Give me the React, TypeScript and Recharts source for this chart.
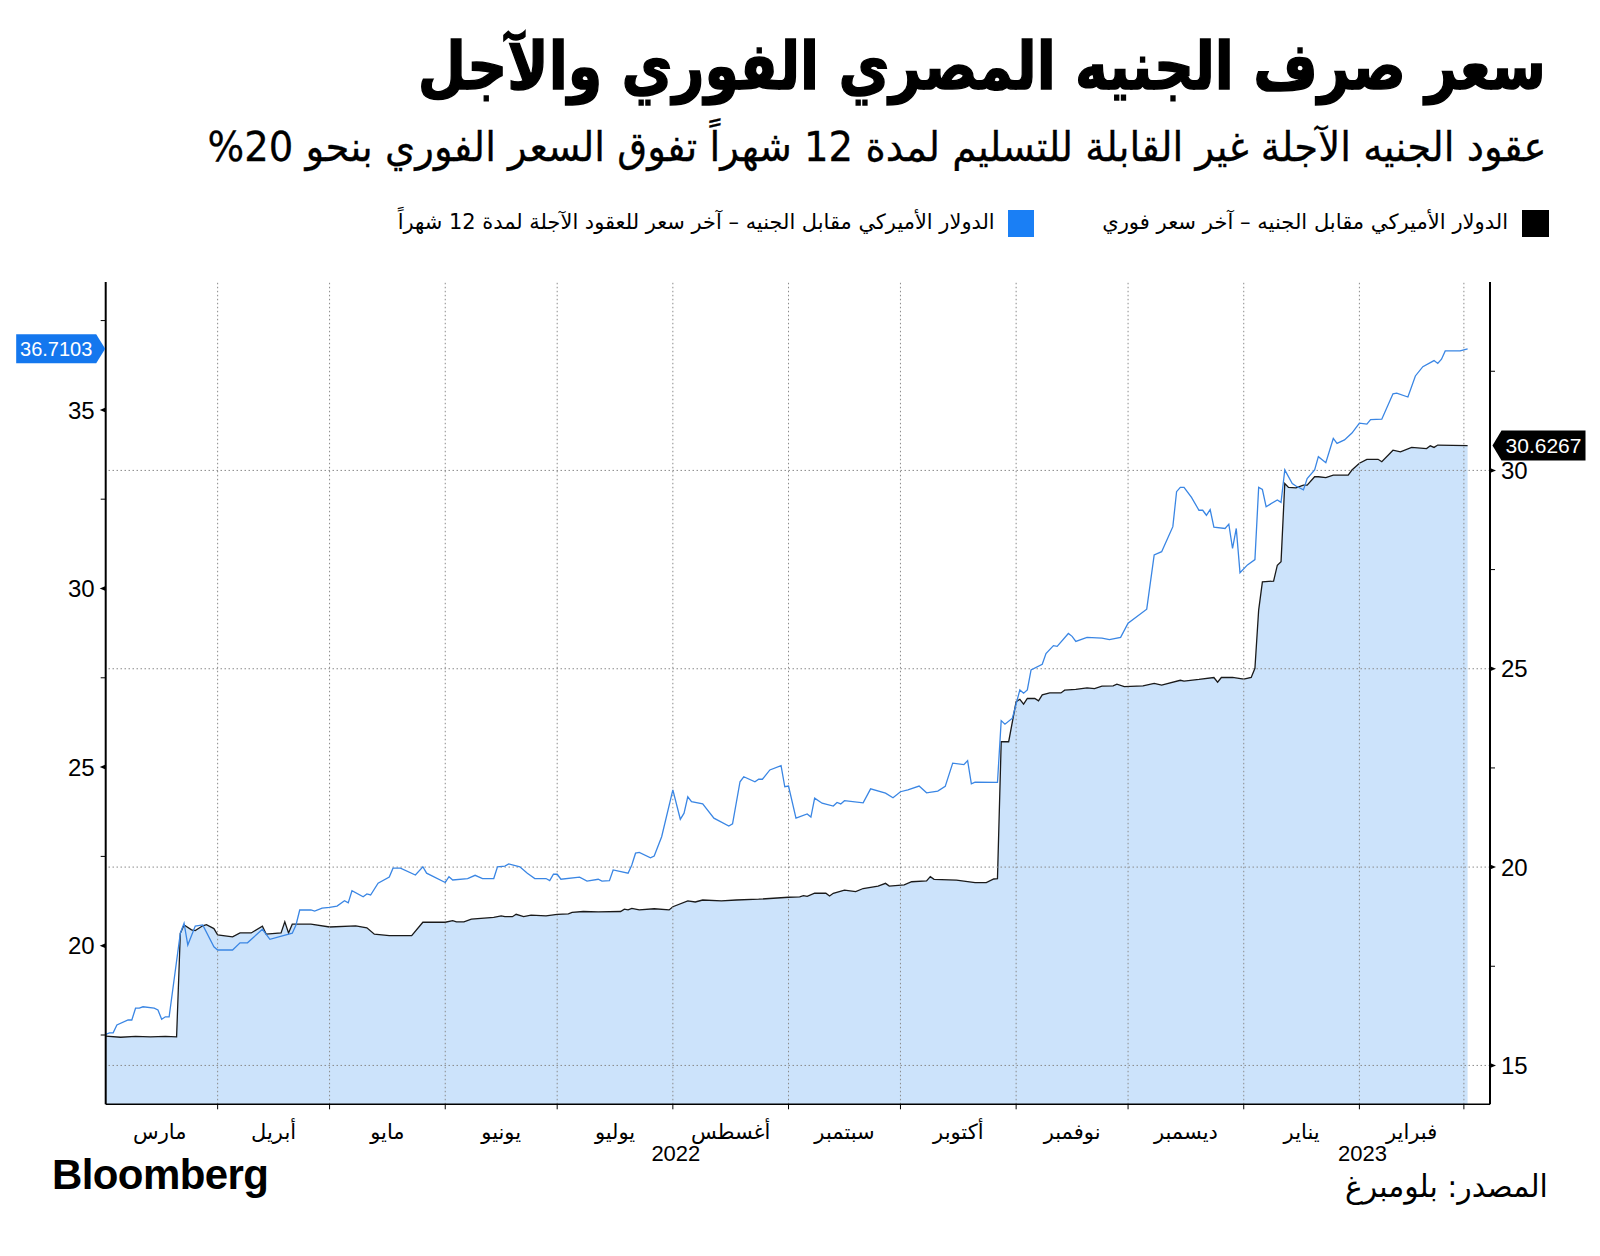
import { useLayoutEffect, useRef, useState } from 'react';
import {
  ComposedChart, Area, Line, XAxis, YAxis, ReferenceLine, ReferenceDot,
} from 'recharts';

// days counted from 1 March 2022
const BASE = Date.UTC(2022, 2, 1);
const dayOf = (y: number, m: number) => Math.round((Date.UTC(y, m - 1, 1) - BASE) / 86400000);

const MONTH_LABELS = ['مارس', 'أبريل', 'مايو', 'يونيو', 'يوليو', 'أغسطس', 'سبتمبر', 'أكتوبر', 'نوفمبر', 'ديسمبر', 'يناير', 'فبراير'];
const MONTH_STARTS: [number, number][] = [
  [2022, 3], [2022, 4], [2022, 5], [2022, 6], [2022, 7], [2022, 8], [2022, 9],
  [2022, 10], [2022, 11], [2022, 12], [2023, 1], [2023, 2], [2023, 3],
];
const YEAR_LABELS: [number, string][] = [[dayOf(2022, 8), '2022'], [dayOf(2023, 2), '2023']];

const LEFT_TICKS = [17.5, 20, 22.5, 25, 27.5, 30, 32.5, 35, 37.5];
const RIGHT_TICKS = [15, 17.5, 20, 22.5, 25, 27.5, 30, 32.5];
const GRID_Y = [15, 20, 25, 30];

// USD/EGP spot (right axis)
const spotDays = [1, 5, 9, 13, 17, 20, 21, 22, 24, 25, 27, 28, 30, 31, 35, 37, 40, 43, 44, 48, 49, 50, 51, 56, 61, 68, 71, 73, 77, 83, 86, 92, 94, 95, 97, 99, 105, 107, 108, 110, 111, 113, 115, 119, 122, 125, 126, 129, 133, 139, 140, 141, 142, 144, 148, 152, 153, 157, 159, 161, 166, 170, 176, 184, 187, 188, 189, 191, 194, 195, 196, 199, 202, 204, 208, 210, 211, 215, 217, 221, 222, 223, 229, 234, 237, 239, 240, 241, 243, 245, 246, 247, 248, 250, 251, 252, 254, 257, 258, 261, 264, 266, 268, 271, 272, 274, 279, 282, 284, 289, 290, 294, 298, 299, 300, 303, 306, 308, 309, 310, 311, 314, 315, 316, 317, 318, 320, 322, 323, 325, 326, 328, 330, 334, 335, 337, 339, 342, 343, 346, 348, 351, 355, 356, 357, 358, 366];
const spotValues = [15.74, 15.71, 15.73, 15.72, 15.73, 15.72, 18.33, 18.54, 18.42, 18.40, 18.52, 18.55, 18.45, 18.29, 18.24, 18.34, 18.34, 18.51, 18.31, 18.34, 18.62, 18.34, 18.56, 18.56, 18.49, 18.52, 18.47, 18.31, 18.27, 18.27, 18.61, 18.61, 18.65, 18.62, 18.62, 18.69, 18.73, 18.77, 18.75, 18.75, 18.81, 18.75, 18.79, 18.77, 18.81, 18.82, 18.86, 18.88, 18.87, 18.88, 18.94, 18.92, 18.96, 18.92, 18.95, 18.92, 19.0, 19.15, 19.12, 19.17, 19.15, 19.17, 19.19, 19.24, 19.25, 19.28, 19.26, 19.34, 19.34, 19.27, 19.34, 19.42, 19.38, 19.46, 19.52, 19.59, 19.52, 19.55, 19.63, 19.65, 19.76, 19.69, 19.67, 19.61, 19.61, 19.70, 19.71, 23.16, 23.16, 24.17, 24.23, 24.11, 24.25, 24.25, 24.19, 24.34, 24.39, 24.39, 24.46, 24.48, 24.52, 24.50, 24.56, 24.57, 24.61, 24.55, 24.57, 24.63, 24.59, 24.71, 24.69, 24.73, 24.78, 24.66, 24.78, 24.78, 24.74, 24.78, 25.01, 26.48, 27.19, 27.21, 27.61, 27.70, 29.67, 29.57, 29.56, 29.63, 29.63, 29.84, 29.84, 29.82, 29.88, 29.88, 30.01, 30.18, 30.28, 30.28, 30.22, 30.51, 30.47, 30.58, 30.55, 30.62, 30.58, 30.64, 30.6267];

// 12-month NDF (left axis)
const fwdDays = [1, 2, 3, 4, 7, 8, 9, 10, 11, 14, 15, 16, 17, 18, 21, 22, 23, 25, 27, 30, 31, 35, 37, 39, 43, 45, 51, 52, 53, 56, 57, 59, 61, 63, 65, 66, 67, 70, 71, 72, 74, 77, 78, 80, 84, 86, 87, 92, 93, 94, 98, 100, 102, 105, 106, 108, 109, 112, 114, 116, 119, 120, 121, 122, 123, 128, 130, 133, 134, 136, 137, 141, 142, 143, 144, 147, 148, 150, 153, 155, 156, 157, 158, 161, 164, 168, 169, 171, 172, 175, 176, 177, 179, 182, 183, 184, 186, 189, 190, 191, 193, 196, 197, 198, 199, 204, 206, 210, 212, 214, 216, 219, 221, 224, 226, 228, 231, 232, 233, 234, 240, 241, 242, 244, 246, 247, 248, 249, 252, 253, 255, 256, 259, 260, 261, 264, 268, 270, 273, 275, 280, 282, 284, 287, 288, 289, 290, 292, 294, 295, 296, 297, 298, 301, 302, 303, 304, 305, 307, 309, 310, 311, 312, 315, 316, 317, 319, 320, 322, 323, 325, 326, 328, 330, 331, 333, 335, 337, 339, 340, 343, 346, 347, 350, 352, 354, 357, 358, 359, 360, 364, 365, 366];
const fwdValues = [17.52, 17.56, 17.56, 17.78, 17.92, 17.92, 18.25, 18.25, 18.29, 18.25, 18.20, 17.94, 18.01, 18.01, 20.35, 20.63, 20.02, 20.55, 20.58, 19.97, 19.88, 19.88, 20.08, 20.08, 20.46, 20.18, 20.35, 20.58, 21.0, 21.0, 20.97, 21.05, 21.07, 21.11, 21.26, 21.2, 21.54, 21.37, 21.45, 21.42, 21.75, 21.92, 22.17, 22.17, 21.98, 22.21, 22.03, 21.77, 21.93, 21.84, 21.88, 21.97, 21.88, 21.88, 22.21, 22.23, 22.29, 22.21, 22.03, 21.88, 21.88, 21.82, 22.0, 22.0, 21.86, 21.92, 21.81, 21.86, 21.81, 21.82, 22.12, 22.03, 22.26, 22.59, 22.61, 22.46, 22.51, 23.05, 24.36, 23.54, 23.71, 24.17, 24.03, 23.97, 23.57, 23.35, 23.41, 24.59, 24.73, 24.59, 24.66, 24.66, 24.92, 25.04, 24.45, 24.47, 23.57, 23.69, 23.6, 24.13, 23.99, 23.91, 24.01, 23.97, 24.06, 24.0, 24.39, 24.27, 24.14, 24.31, 24.36, 24.47, 24.28, 24.33, 24.46, 25.11, 25.07, 25.18, 24.53, 24.58, 24.57, 26.3, 26.2, 26.37, 27.16, 27.07, 27.16, 27.72, 27.88, 28.18, 28.4, 28.38, 28.74, 28.66, 28.52, 28.63, 28.61, 28.57, 28.63, 29.03, 29.42, 30.94, 31.03, 31.73, 32.71, 32.83, 32.83, 32.55, 32.19, 32.19, 32.05, 32.21, 31.72, 31.68, 31.8, 31.12, 31.68, 30.44, 30.66, 30.81, 32.83, 32.77, 32.29, 32.48, 32.41, 33.32, 32.94, 32.87, 32.76, 33.08, 33.32, 33.69, 33.52, 34.2, 34.06, 34.16, 34.35, 34.63, 34.6, 34.73, 34.74, 35.45, 35.47, 35.36, 35.95, 36.21, 36.38, 36.30, 36.42, 36.65, 36.65, 36.68, 36.7103];

const spotData = spotDays.map((day, i) => ({ day, spot: spotValues[i] }));
const fwdData = fwdDays.map((day, i) => ({ day, fwd: fwdValues[i] }));

const monthStarts = MONTH_STARTS.map(([y, m]) => dayOf(y, m));
const boundaries = monthStarts.slice(1);
const labelDays = MONTH_LABELS.map((_, i) => (monthStarts[i] + monthStarts[i + 1]) / 2);

const BLUE_LINE = '#3a86e4';
const BLUE_TAG = '#1477ee';
const FILL = '#cce3fb';
const GRID = '#8a8a8a';
const ARABIC = '"DejaVu Sans", sans-serif';
const LATIN = '"Liberation Sans", Arial, sans-serif';

function FitText({ text, width, style }: { text: string; width: number; style: React.CSSProperties }) {
  const ref = useRef<HTMLSpanElement>(null);
  const [k, setK] = useState(1);
  useLayoutEffect(() => {
    if (ref.current) {
      const w = ref.current.getBoundingClientRect().width;
      if (w) setK(width / w);
    }
  }, [text, width]);
  return (
    <span
      ref={ref}
      dir="rtl"
      style={{ display: 'inline-block', whiteSpace: 'nowrap', transform: `scaleX(${k})`, transformOrigin: 'right center', ...style }}
    >
      {text}
    </span>
  );
}

const LeftTick = ({ x, y, payload }: any) => {
  const major = payload.value % 5 === 0;
  return (
    <g>
      {major
        ? <polygon points={`${x},${y - 2.5} ${x},${y + 2.5} ${x - 6},${y}`} fill="#000" />
        : <line x1={x - 5} x2={x} y1={y} y2={y} stroke="#000" strokeWidth={1} />}
      {major && (
        <text x={x - 11} y={y} dy="0.36em" textAnchor="end" fontSize={24} fontFamily={LATIN} fill="#000">
          {payload.value}
        </text>
      )}
    </g>
  );
};

const RightTick = ({ x, y, payload }: any) => {
  const major = payload.value % 5 === 0;
  return (
    <g>
      {major
        ? <polygon points={`${x},${y - 2.5} ${x},${y + 2.5} ${x + 6},${y}`} fill="#000" />
        : <line x1={x} x2={x + 5} y1={y} y2={y} stroke="#000" strokeWidth={1} />}
      {major && (
        <text x={x + 11} y={y} dy="0.36em" textAnchor="start" fontSize={24} fontFamily={LATIN} fill="#000">
          {payload.value}
        </text>
      )}
    </g>
  );
};

const MonthTick = ({ x, y, payload }: any) => {
  const v = payload.value;
  if (boundaries.includes(v)) {
    const year = YEAR_LABELS.find(([d]) => d === v);
    return (
      <g>
        <line x1={x} x2={x} y1={y} y2={y + 5} stroke="#000" strokeWidth={1} />
        {year && (
          <text x={x + 3} y={y + 49} dy="0.36em" textAnchor="middle" fontSize={22} fontFamily={LATIN} fill="#000">
            {year[1]}
          </text>
        )}
      </g>
    );
  }
  const idx = labelDays.indexOf(v);
  return (
    <text x={x} y={y + 27} dy="0.36em" textAnchor="middle" fontSize={21} fontFamily={ARABIC} fill="#000" direction="rtl">
      {MONTH_LABELS[idx]}
    </text>
  );
};

const LeftTag = ({ cx, cy }: any) => {
  const h = 29, a = 9, w = 80;
  const tip = cx - 0.5;
  return (
    <g>
      <polygon
        points={`${tip},${cy} ${tip - a},${cy - h / 2} ${tip - a - w},${cy - h / 2} ${tip - a - w},${cy + h / 2} ${tip - a},${cy + h / 2}`}
        fill={BLUE_TAG}
      />
      <text x={tip - a - w / 2} y={cy} dy="0.36em" textAnchor="middle" fontSize={20} fontFamily={LATIN} fill="#fff">
        36.7103
      </text>
    </g>
  );
};

const RightTag = ({ cx, cy }: any) => {
  const h = 30, a = 9, w = 84;
  const tip = cx + 2.5;
  return (
    <g>
      <polygon
        points={`${tip},${cy} ${tip + a},${cy - h / 2} ${tip + a + w},${cy - h / 2} ${tip + a + w},${cy + h / 2} ${tip + a},${cy + h / 2}`}
        fill="#000"
      />
      <text x={tip + a + w / 2} y={cy} dy="0.36em" textAnchor="middle" fontSize={21} fontFamily={LATIN} fill="#fff">
        30.6267
      </text>
    </g>
  );
};

export default function App() {
  const lastFwd = fwdValues[fwdValues.length - 1];
  const lastSpot = spotValues[spotValues.length - 1];
  return (
    <div style={{ position: 'absolute', left: 0, top: 0, width: 1600, height: 1256, background: '#fff', overflow: 'hidden' }}>
      <div style={{ position: 'absolute', right: 54, top: 24, lineHeight: 1.3 }}>
        <FitText
          text="سعر صرف الجنيه المصري الفوري والآجل"
          width={1128}
          style={{ fontFamily: ARABIC, fontWeight: 700, fontSize: 66, color: '#000', WebkitTextStroke: '1.5px #000' }}
        />
      </div>
      <div style={{ position: 'absolute', right: 54, top: 121, lineHeight: 1.3 }}>
        <FitText
          text="عقود الجنيه الآجلة غير القابلة للتسليم لمدة 12 شهراً تفوق السعر الفوري بنحو 20%"
          width={1339}
          style={{ fontFamily: ARABIC, fontSize: 41, color: '#000', WebkitTextStroke: '0.3px #000' }}
        />
      </div>

      <div style={{ position: 'absolute', left: 1522, top: 210, width: 27, height: 27, background: '#000' }} />
      <div style={{ position: 'absolute', right: 1600 - 1508, top: 209, lineHeight: 1.3 }}>
        <FitText text="الدولار الأميركي مقابل الجنيه – آخر سعر فوري" width={406} style={{ fontFamily: ARABIC, fontSize: 21, color: '#000' }} />
      </div>
      <div style={{ position: 'absolute', left: 1008, top: 210, width: 26, height: 27, background: '#1a7ff5' }} />
      <div style={{ position: 'absolute', right: 1600 - 995, top: 209, lineHeight: 1.3 }}>
        <FitText text="الدولار الأميركي مقابل الجنيه – آخر سعر للعقود الآجلة لمدة 12 شهراً" width={597} style={{ fontFamily: ARABIC, fontSize: 21, color: '#000' }} />
      </div>

      <div style={{ position: 'absolute', left: 0, top: 0 }}>
        <ComposedChart width={1600} height={1256} margin={{ top: 282, right: 50, bottom: 101.7, left: 45.7 }}>
          <XAxis
            type="number"
            dataKey="day"
            domain={[1, 372]}
            ticks={[...boundaries, ...labelDays]}
            interval={0}
            tickSize={0}
            tickMargin={0}
            tick={<MonthTick />}
            axisLine={{ stroke: '#000', strokeWidth: 1.5 }}
            height={50}
            allowDataOverflow
          />
          <YAxis
            yAxisId="left"
            orientation="left"
            type="number"
            domain={[15.56, 38.58]}
            ticks={LEFT_TICKS}
            interval={0}
            tickSize={0}
            tickMargin={0}
            tick={<LeftTick />}
            axisLine={{ stroke: '#000', strokeWidth: 2 }}
            width={60}
            allowDataOverflow
          />
          <YAxis
            yAxisId="right"
            orientation="right"
            type="number"
            domain={[14.02, 34.75]}
            ticks={RIGHT_TICKS}
            interval={0}
            tickSize={0}
            tickMargin={0}
            tick={<RightTick />}
            axisLine={{ stroke: '#000', strokeWidth: 2 }}
            width={60}
            allowDataOverflow
          />
          <Area
            yAxisId="right"
            data={spotData}
            dataKey="spot"
            type="linear"
            stroke="#1a1a1a"
            strokeWidth={1.3}
            fill={FILL}
            fillOpacity={1}
            isAnimationActive={false}
            dot={false}
            activeDot={false}
          />
          {GRID_Y.map((v) => (
            <ReferenceLine key={`gy-${v}`} yAxisId="right" y={v} stroke={GRID} strokeWidth={1} strokeDasharray="1.5 2.5" />
          ))}
          {boundaries.map((d) => (
            <ReferenceLine key={`gx-${d}`} yAxisId="right" x={d} stroke={GRID} strokeWidth={1} strokeDasharray="1.5 2.5" />
          ))}
          <Line
            yAxisId="left"
            data={fwdData}
            dataKey="fwd"
            type="linear"
            stroke={BLUE_LINE}
            strokeWidth={1.3}
            dot={false}
            activeDot={false}
            isAnimationActive={false}
          />
          <ReferenceDot yAxisId="left" x={1} y={lastFwd} ifOverflow="visible" shape={<LeftTag />} />
          <ReferenceDot yAxisId="right" x={372} y={lastSpot} ifOverflow="visible" shape={<RightTag />} />
        </ComposedChart>
      </div>

      <div style={{ position: 'absolute', left: 52, top: 1150, fontFamily: LATIN, fontWeight: 700, fontSize: 42, letterSpacing: -0.6, lineHeight: 1.2, color: '#000' }}>
        Bloomberg
      </div>
      <div style={{ position: 'absolute', right: 52, top: 1171, lineHeight: 1 }}>
        <FitText text="المصدر: بلومبرغ" width={203} style={{ fontFamily: ARABIC, fontSize: 31, lineHeight: 1, color: '#000' }} />
      </div>
    </div>
  );
}
